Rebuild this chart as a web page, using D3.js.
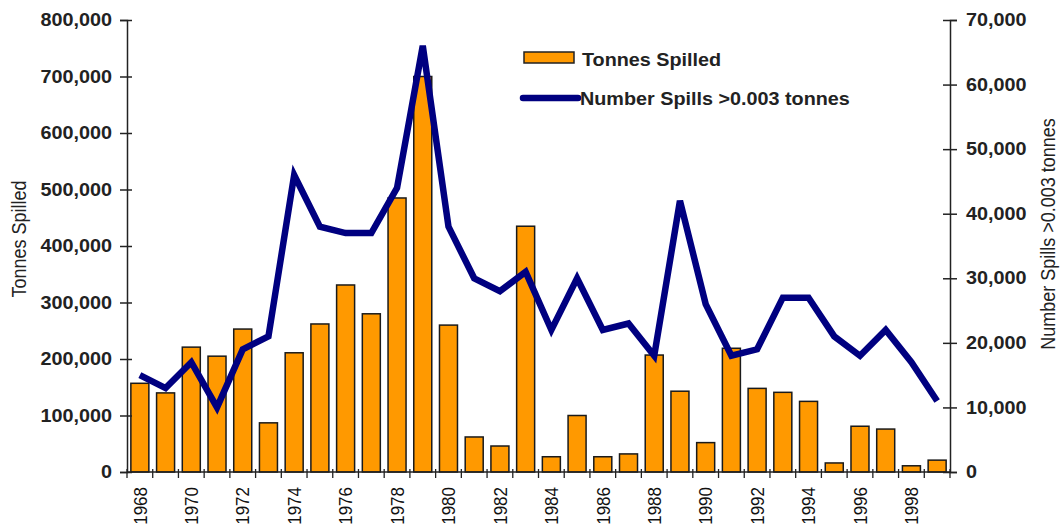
<!DOCTYPE html>
<html><head><meta charset="utf-8">
<script src="https://cdn.jsdelivr.net/npm/d3@7"></script>
<style>body{margin:0;background:#fff;} svg{display:block;font-family:"Liberation Sans",Arial,sans-serif;}</style>
</head><body><svg id="c" width="1061" height="528"></svg>
<script>
const years = d3.range(1968, 2000).map(String);
const tonnes = [157000,140000,221000,205000,253000,87000,211000,262000,331000,280000,485000,700000,260000,62000,46000,435000,27000,100000,27000,32000,207000,143000,52000,219000,148000,141000,125000,16000,81000,76000,11000,21000];
const spills = [15000,13000,17000,10000,19000,21000,46000,38000,37000,37000,44000,66000,38000,30000,28000,31000,22000,30000,22000,23000,18000,42000,26000,18000,19000,27000,27000,21000,18000,22000,17000,11000];
const leftTicks = [0,100000,200000,300000,400000,500000,600000,700000,800000];
const rightTicks = [0,10000,20000,30000,40000,50000,60000,70000];
const xLabels = years.filter((d,i)=>i%2===0);

const SX = 1.13; // horizontal stretch of the original picture
function stretch(sel,k){ sel.each(function(){ const w=this.getComputedTextLength(); this.setAttribute("textLength", w*k); this.setAttribute("lengthAdjust","spacingAndGlyphs"); }); }

const svg = d3.select("#c");
const L=127, R=950, T=20, B=472;
const x = d3.scaleBand().domain(years).range([L,R]).paddingInner(0.3).paddingOuter(0.15);
const yL = d3.scaleLinear().domain([0,800000]).range([B,T]);
const yR = d3.scaleLinear().domain([0,70000]).range([B,T]);
const fmt = d3.format(",");
const ink = "#222";

// bars
svg.append("g").selectAll("rect").data(years).join("rect")
  .attr("x", d=>x(d)).attr("y", (d,i)=>yL(tonnes[i]))
  .attr("width", x.bandwidth()).attr("height", (d,i)=>B-yL(tonnes[i]))
  .attr("fill","#FF9900").attr("stroke","#1a1a1a").attr("stroke-width",1.5);

// line
const line = d3.line().x((d,i)=>x(years[i])+x.bandwidth()/2).y(d=>yR(d));
svg.append("path").datum(spills).attr("d", line).attr("fill","none")
  .attr("stroke","#000080").attr("stroke-width",6.5).attr("stroke-linejoin","miter");

// left axis
const gl = svg.append("g").attr("transform",`translate(${L},0)`)
  .call(d3.axisLeft(yL).tickValues(leftTicks).tickFormat(fmt).tickSize(7).tickPadding(8));
gl.selectAll(".tick line").attr("x1",5);
// right axis
const gr = svg.append("g").attr("transform",`translate(${R},0)`)
  .call(d3.axisRight(yR).tickValues(rightTicks).tickFormat(fmt).tickSize(7).tickPadding(9));
gr.selectAll(".tick line").attr("x1",-7);
[gl,gr].forEach(g=>{
  g.selectAll(".tick text").attr("font-size",17.5).attr("font-weight","bold").attr("fill",ink)
    .attr("font-family","Liberation Sans, Arial, sans-serif");
  g.selectAll(".tick line").attr("stroke",ink).attr("stroke-width",1.5);
  g.select(".domain").attr("stroke",ink).attr("stroke-width",1.5);
  stretch(g.selectAll(".tick text"), SX);
});

// bottom axis
const gb = svg.append("g").attr("transform",`translate(0,${B})`);
gb.append("line").attr("x1",L).attr("x2",R).attr("stroke",ink).attr("stroke-width",1.5);
gb.selectAll("line.t").data(d3.range(years.length+1)).join("line").attr("class","t")
  .attr("x1",i=>L+i*x.step()).attr("x2",i=>L+i*x.step())
  .attr("y1",-3).attr("y2",6).attr("stroke",ink).attr("stroke-width",1.3);
gb.selectAll("text").data(xLabels).join("text")
  .attr("transform", d=>`translate(${x(d)+x.bandwidth()/2},15) rotate(-90) scale(1,${SX})`)
  .attr("dy","0.35em").attr("text-anchor","end").attr("font-size",17).attr("fill","#111").text(d=>d);

// axis titles
svg.append("text").attr("transform",`translate(19,239) rotate(-90) scale(1,${SX})`).attr("text-anchor","middle")
  .attr("dy","0.35em").attr("font-size",18).attr("fill",ink).text("Tonnes Spilled");
svg.append("text").attr("transform",`translate(1048,234) rotate(-90) scale(1,${SX})`).attr("text-anchor","middle")
  .attr("dy","0.35em").attr("font-size",18).attr("fill",ink).text("Number Spills >0.003 tonnes");

// legend
svg.append("rect").attr("x",524).attr("y",52).attr("width",50).attr("height",11)
  .attr("fill","#FF9900").attr("stroke",ink).attr("stroke-width",1.5);
const t1 = svg.append("text").attr("x",582).attr("y",66).attr("font-size",17.5).attr("font-weight","bold").attr("fill",ink).text("Tonnes Spilled");
svg.append("line").attr("x1",523).attr("x2",578).attr("y1",98).attr("y2",98)
  .attr("stroke","#000080").attr("stroke-width",6.5).attr("stroke-linecap","round");
const t2 = svg.append("text").attr("x",580).attr("y",105).attr("font-size",17.5).attr("font-weight","bold").attr("fill",ink).text("Number Spills >0.003 tonnes");
stretch(t1,SX); stretch(t2,SX);
</script></body></html>
